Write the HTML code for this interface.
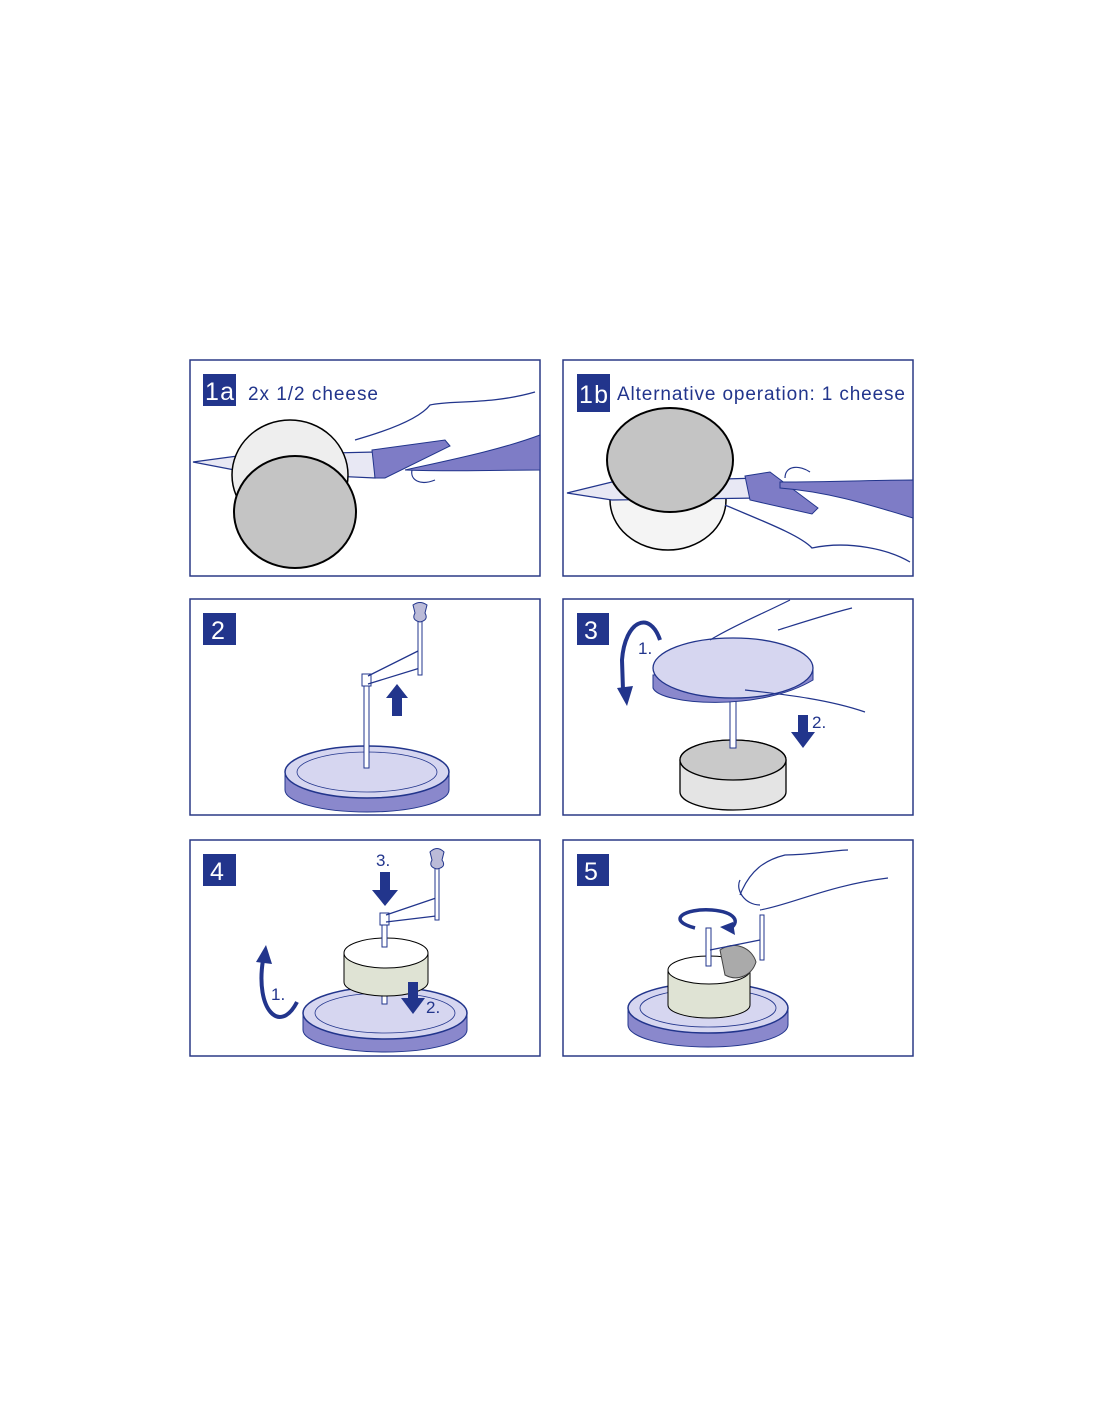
<!DOCTYPE html>
<html><head><meta charset="utf-8"><style>
html,body{margin:0;padding:0;background:#fff}
svg{display:block}
text{font-family:"Liberation Sans",sans-serif}
</style></head><body>
<svg width="1100" height="1422" viewBox="0 0 1100 1422" xmlns="http://www.w3.org/2000/svg">
<g fill="none" stroke="#2b3a86" stroke-width="1.5">
<rect x="190" y="360" width="350" height="216"/>
<rect x="563" y="360" width="350" height="216"/>
<rect x="190" y="599" width="350" height="216"/>
<rect x="563" y="599" width="350" height="216"/>
<rect x="190" y="840" width="350" height="216"/>
<rect x="563" y="840" width="350" height="216"/>
</g>
<g fill="#22358c">
<rect x="203" y="374" width="33" height="32"/>
<rect x="577" y="374" width="33" height="38"/>
<rect x="203" y="613" width="33" height="32"/>
<rect x="577" y="613" width="32" height="32"/>
<rect x="203" y="854" width="33" height="32"/>
<rect x="577" y="854" width="32" height="32"/>
</g>
<g fill="#fff" font-size="25">
<text x="205" y="400" textLength="29">1a</text>
<text x="579" y="403" textLength="29">1b</text>
<text x="211" y="639">2</text>
<text x="584" y="639">3</text>
<text x="210" y="880">4</text>
<text x="584" y="880">5</text>
</g>
<g fill="#22358c" font-size="19">
<text x="248" y="400" textLength="130">2x 1/2 cheese</text>
<text x="617" y="400" textLength="288">Alternative operation: 1 cheese</text>
</g>

<!-- 1a -->
<path d="M193,462 L245,455 L375,452 L375,478 L245,472 Z" fill="#e8e8f4" stroke="#22358c" stroke-width="1.2"/>
<ellipse cx="290" cy="475" rx="58" ry="55" fill="#eeeeee" stroke="#000" stroke-width="1.5"/>
<ellipse cx="295" cy="512" rx="61" ry="56" fill="#c4c4c4" stroke="#000" stroke-width="2"/>
<path d="M372,450 L445,440 L450,446 L385,478 L375,478 Z" fill="#7e7cc6" stroke="#22358c"/>
<path d="M405,470 C450,460 500,450 540,435 L540,470 C500,470 460,472 405,470 Z" fill="#7e7cc6" stroke="#22358c"/>
<path d="M355,440 C390,430 420,418 430,405 C450,400 490,405 535,392" fill="none" stroke="#22358c" stroke-width="1.3"/>
<path d="M412,470 C410,480 420,486 435,480" fill="none" stroke="#22358c" stroke-width="1.2"/>

<!-- 1b -->
<ellipse cx="668" cy="500" rx="58" ry="50" fill="#f4f4f4" stroke="#000" stroke-width="1.5"/>
<path d="M567,493 L612,482 L760,478 L760,498 L612,500 Z" fill="#e8e8f4" stroke="#22358c" stroke-width="1.2"/>
<ellipse cx="670" cy="460" rx="63" ry="52" fill="#c4c4c4" stroke="#000" stroke-width="2"/>
<path d="M745,476 L770,472 L818,508 L812,514 L750,500 Z" fill="#7e7cc6" stroke="#22358c"/>
<path d="M780,482 C830,482 880,480 913,480 L913,518 C870,505 830,492 780,488 Z" fill="#7e7cc6" stroke="#22358c"/>
<path d="M725,505 C760,520 800,535 812,548 C850,540 890,550 910,562" fill="none" stroke="#22358c" stroke-width="1.3"/>
<path d="M785,478 C785,465 800,465 810,472" fill="none" stroke="#22358c" stroke-width="1.2"/>

<!-- 2 -->
<path d="M285,772 L285,790 A82,22 0 0 0 449,790 L449,772 Z" fill="#8a88cc" stroke="#22358c"/>
<ellipse cx="367" cy="772" rx="82" ry="26" fill="#d6d6f0" stroke="#22358c" stroke-width="1.5"/>
<ellipse cx="367" cy="772" rx="70" ry="20" fill="none" stroke="#22358c" stroke-width="0.8"/>
<rect x="364" y="686" width="5" height="82" fill="#fff" stroke="#22358c"/>
<rect x="362" y="674" width="9" height="12" fill="#fff" stroke="#22358c"/>
<path d="M368,676 L420,650 M368,684 L420,668" stroke="#22358c" stroke-width="1.3"/>
<rect x="418" y="620" width="4" height="55" fill="#fff" stroke="#22358c"/>
<path d="M413,605 Q420,600 427,605 L425,613 Q429,620 420,622 Q411,620 415,613 Z" fill="#bbbbd8" stroke="#22358c"/>
<path d="M392,716 L392,698 L386,698 L397,684 L408,698 L402,698 L402,716 Z" fill="#22358c"/>

<!-- 3 -->
<path d="M680,792 L680,760 A53,20 0 0 1 786,760 L786,792 A53,18 0 0 1 680,792 Z" fill="#e4e4e4" stroke="#000" stroke-width="1.3"/>
<ellipse cx="733" cy="760" rx="53" ry="20" fill="#c9c9c9" stroke="#000" stroke-width="1.3"/>
<rect x="730" y="700" width="6" height="48" fill="#fff" stroke="#22358c"/>
<path d="M653,675 L653,688 C660,705 760,712 813,680 L813,668 Z" fill="#8a88cc" stroke="#22358c"/>
<ellipse cx="733" cy="668" rx="80" ry="30" fill="#d6d6f0" stroke="#22358c" stroke-width="1.3"/>
<path d="M710,640 C735,625 760,615 790,600 M778,630 C810,620 835,612 852,608 M745,690 C790,695 830,700 865,712" fill="none" stroke="#22358c" stroke-width="1.2"/>
<path d="M660,640 C650,610 625,620 622,660 L623,690" fill="none" stroke="#22358c" stroke-width="4"/>
<path d="M617,688 L627,706 L633,686 Z" fill="#22358c"/>
<text x="638" y="654" font-size="17" fill="#22358c">1.</text>
<path d="M798,715 L808,715 L808,732 L815,732 L803,748 L791,732 L798,732 Z" fill="#22358c"/>
<text x="812" y="728" font-size="17" fill="#22358c">2.</text>

<!-- 4 -->
<path d="M303,1014 L303,1030 A82,22 0 0 0 467,1030 L467,1014 Z" fill="#8a88cc" stroke="#22358c"/>
<ellipse cx="385" cy="1013" rx="82" ry="26" fill="#d6d6f0" stroke="#22358c" stroke-width="1.5"/>
<ellipse cx="385" cy="1013" rx="70" ry="20" fill="none" stroke="#22358c" stroke-width="0.8"/>
<rect x="382" y="990" width="5" height="14" fill="#fff" stroke="#22358c"/>
<path d="M344,953 L344,982 A42,14 0 0 0 428,982 L428,953 Z" fill="#dfe3d4" stroke="#000"/>
<ellipse cx="386" cy="953" rx="42" ry="15" fill="#fff" stroke="#000"/>
<rect x="382" y="925" width="5" height="22" fill="#fff" stroke="#22358c"/>
<rect x="380" y="913" width="9" height="12" fill="#fff" stroke="#22358c"/>
<path d="M386,915 L436,898 M386,922 L436,916" stroke="#22358c" stroke-width="1.3"/>
<rect x="435" y="868" width="4" height="52" fill="#fff" stroke="#22358c"/>
<path d="M430,852 Q437,845 444,852 L442,860 Q447,867 437,869 Q428,867 432,860 Z" fill="#bbbbd8" stroke="#22358c"/>
<path d="M380,872 L390,872 L390,890 L398,890 L385,906 L372,890 L380,890 Z" fill="#22358c"/>
<text x="376" y="866" font-size="17" fill="#22358c">3.</text>
<path d="M408,982 L418,982 L418,998 L425,998 L413,1014 L401,998 L408,998 Z" fill="#22358c"/>
<text x="426" y="1013" font-size="17" fill="#22358c">2.</text>
<path d="M297,1002 C280,1035 255,1010 263,960" fill="none" stroke="#22358c" stroke-width="4"/>
<path d="M256,962 L266,945 L272,964 Z" fill="#22358c"/>
<text x="271" y="1000" font-size="17" fill="#22358c">1.</text>

<!-- 5 -->
<path d="M628,1010 L628,1025 A80,22 0 0 0 788,1025 L788,1010 Z" fill="#8a88cc" stroke="#22358c"/>
<ellipse cx="708" cy="1008" rx="80" ry="25" fill="#d6d6f0" stroke="#22358c" stroke-width="1.5"/>
<ellipse cx="708" cy="1008" rx="68" ry="19" fill="none" stroke="#22358c" stroke-width="0.8"/>
<path d="M668,970 L668,1005 A41,13 0 0 0 750,1005 L750,970 Z" fill="#dfe3d4" stroke="#000"/>
<ellipse cx="709" cy="970" rx="41" ry="14" fill="#fff" stroke="#000"/>
<rect x="706" y="928" width="5" height="38" fill="#fff" stroke="#22358c"/>
<path d="M720,950 C735,940 752,948 756,962 C752,975 738,982 725,975 Z" fill="#aaaaaa" stroke="#444"/>
<rect x="760" y="915" width="4" height="45" fill="#fff" stroke="#22358c"/>
<path d="M710,950 L760,940" stroke="#22358c" stroke-width="1.3"/>
<path d="M695,928 C665,920 685,908 712,910 C735,912 742,922 728,930" fill="none" stroke="#22358c" stroke-width="3.5"/>
<path d="M720,927 L735,935 L733,922 Z" fill="#22358c"/>
<path d="M740,895 C750,870 765,860 785,855 C810,855 835,850 848,850 M760,910 C790,905 830,885 888,878" fill="none" stroke="#22358c" stroke-width="1.2"/>
<path d="M740,880 C735,890 745,905 760,905" fill="none" stroke="#22358c" stroke-width="1.2"/>
</svg>
</body></html>
